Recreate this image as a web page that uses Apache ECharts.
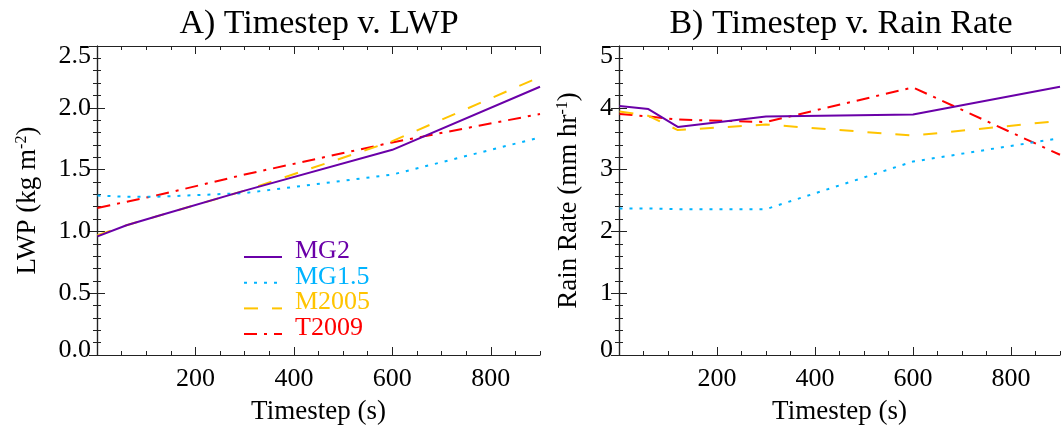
<!DOCTYPE html>
<html>
<head>
<meta charset="utf-8">
<script src="https://cdn.jsdelivr.net/npm/echarts@6/dist/echarts.min.js"></script>
<style>
  html, body { margin: 0; padding: 0; background: #fff; }
  #chart { width: 1062px; height: 430px; }
</style>
</head>
<body>
<div id="chart"></div>
<script>
// timesteps (s)
var timesteps = [1, 60, 120, 300, 600, 900];

// A) liquid water path, kg m-2
var lwpMG2   = [0.96, 1.05, 1.12, 1.33, 1.66, 2.17];
var lwpMG15  = [1.29, 1.28, 1.28, 1.31, 1.46, 1.76];
var lwpM2005 = [0.97, 1.05, 1.12, 1.33, 1.73, 2.25];
var lwpT2009 = [1.19, 1.24, 1.29, 1.46, 1.72, 1.95];

// B) rain rate, mm hr-1
var rainMG2   = [4.03, 3.98, 3.69, 3.86, 3.89, 4.34];
var rainMG15  = [2.37, 2.37, 2.36, 2.36, 3.13, 3.51];
var rainM2005 = [3.94, 3.87, 3.64, 3.73, 3.55, 3.79];
var rainT2009 = [3.90, 3.86, 3.81, 3.77, 4.33, 3.24];

var schemes = ['MG2', 'MG1.5', 'M2005', 'T2009'];
var colors  = ['#6a00a8', '#00b4ff', '#ffc400', '#ff0000'];
var dashes  = ['solid', [3, 7], [14, 14], [13, 7, 3, 7]];

var font = 'Liberation Serif, Times New Roman, serif';
var chart, option;

function pairs(ys) {
    return timesteps.map(function (t, i) { return [t, ys[i]]; });
}

function xAxes(gridIndex, position, major) {
    return {
        type: 'value', gridIndex: gridIndex, position: position,
        min: 0, max: 900, interval: major ? 200 : 50,
        name: (major && position === 'bottom') ? 'Timestep (s)' : '',
        nameLocation: 'middle', nameGap: 43,
        nameTextStyle: { fontFamily: font, fontSize: 27, color: '#000' },
        axisLine: { show: major, lineStyle: { color: '#222', width: 1.2 } },
        axisTick: { show: true, inside: true, length: major ? 8 : 4,
                    lineStyle: { color: '#222', width: 1 } },
        axisLabel: { show: major && position === 'bottom', margin: 11,
                     showMinLabel: false, showMaxLabel: false,
                     fontFamily: font, fontSize: 26, color: '#000' },
        splitLine: { show: false }
    };
}

function yAxis(gridIndex, position, max, interval, name, gap, digits) {
    var left = position === 'left';
    var lab = { fontFamily: font, fontSize: 26, color: '#000' };
    return {
        type: 'value', gridIndex: gridIndex, position: position,
        min: 0, max: max, interval: interval,
        name: left ? name : '', nameLocation: 'middle', nameGap: gap,
        nameTextStyle: {
            fontFamily: font, fontSize: 27, color: '#000',
            rich: { sup: { fontFamily: font, fontSize: 16, color: '#000', verticalAlign: 'top' } }
        },
        axisLine: { show: true, lineStyle: { color: '#222', width: 1.2 } },
        axisTick: { show: true, inside: true, length: 8, lineStyle: { color: '#222', width: 1 } },
        minorTick: { show: true, splitNumber: 5, length: 4, lineStyle: { color: '#222', width: 1 } },
        axisLabel: {
            show: left, margin: 6, fontFamily: font, fontSize: 26, color: '#000',
            rich: {
                lo: Object.assign({ padding: [0, 0, 10, 0] }, lab),
                hi: Object.assign({ padding: [20, 0, 0, 0] }, lab)
            },
            formatter: function (v) {
                var s = v.toFixed(digits);
                if (v === 0) return '{lo|' + s + '}';
                if (v === max) return '{hi|' + s + '}';
                return s;
            }
        },
        splitLine: { show: false }
    };
}

function lineSeries(i, ys, gridIndex) {
    return {
        name: schemes[i], type: 'line', data: pairs(ys),
        xAxisIndex: gridIndex * 4, yAxisIndex: gridIndex * 2,
        symbol: 'none', color: colors[i],
        lineStyle: { color: colors[i], width: 2, type: dashes[i] },
        z: 10 - i
    };
}

function legendRich() {
    var rich = {};
    colors.forEach(function (c, i) {
        rich['c' + i] = { fontFamily: font, fontSize: 26, color: c,
                          lineHeight: 26, padding: [0, 0, 12, 8] };
    });
    return rich;
}

function initChart() {
    chart = echarts.init(document.getElementById('chart'), null, { renderer: 'canvas' });
    option = {
        animation: false,
        backgroundColor: '#fff',
        title: [
            { text: 'A) Timestep v. LWP', left: 314, top: 2, textAlign: 'center',
              textStyle: { fontFamily: font, fontSize: 34, fontWeight: 'normal', color: '#000' } },
            { text: 'B) Timestep v. Rain Rate', left: 836, top: 2, textAlign: 'center',
              textStyle: { fontFamily: font, fontSize: 34, fontWeight: 'normal', color: '#000' } }
        ],
        grid: [
            { left: 97, top: 46, width: 443, height: 312 },
            { left: 619, top: 46, width: 441, height: 312 }
        ],
        xAxis: [
            xAxes(0, 'bottom', true), xAxes(0, 'bottom', false),
            xAxes(0, 'top', true), xAxes(0, 'top', false),
            xAxes(1, 'bottom', true), xAxes(1, 'bottom', false),
            xAxes(1, 'top', true), xAxes(1, 'top', false)
        ],
        yAxis: [
            yAxis(0, 'left', 2.5, 0.5, 'LWP (kg m{sup|-2})', 56, 1),
            yAxis(0, 'right', 2.5, 0.5, '', 0, 1),
            yAxis(1, 'left', 5, 1, 'Rain Rate (mm hr{sup|-1})', 37, 0),
            yAxis(1, 'right', 5, 1, '', 0, 0)
        ],
        legend: {
            orient: 'vertical', left: 243, top: 238, padding: 0,
            itemWidth: 38, itemHeight: 14, itemGap: -12.3,
            itemStyle: { opacity: 0 },
            textStyle: { fontFamily: font, fontSize: 26, rich: legendRich() },
            formatter: function (name) {
                return '{c' + schemes.indexOf(name) + '|' + name + '}';
            },
            data: schemes
        },
        series: [
            lineSeries(0, lwpMG2, 0), lineSeries(1, lwpMG15, 0),
            lineSeries(2, lwpM2005, 0), lineSeries(3, lwpT2009, 0),
            lineSeries(0, rainMG2, 1), lineSeries(1, rainMG15, 1),
            lineSeries(2, rainM2005, 1), lineSeries(3, rainT2009, 1)
        ]
    };
    chart.setOption(option);
}

initChart();
</script>
</body>
</html>
